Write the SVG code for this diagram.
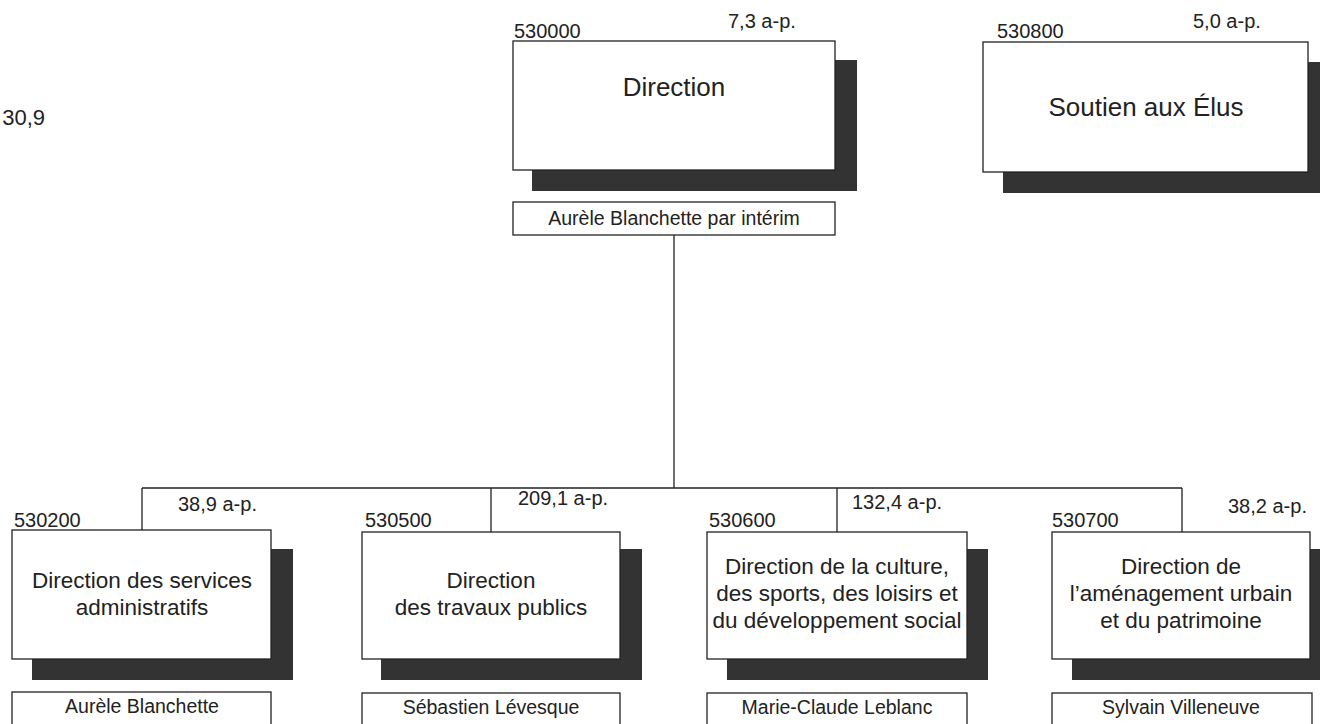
<svg xmlns="http://www.w3.org/2000/svg" width="1320" height="724" viewBox="0 0 1320 724">
<style>
text{font-family:"Liberation Sans",Arial,sans-serif;fill:#222}
.sh{fill:#333}
.bx{fill:#fff;stroke:#222;stroke-width:1.3}
.ln{fill:none;stroke:#222;stroke-width:1.3}
.lbl{font-size:20px}
.t1{font-size:26px;text-anchor:middle}
.t2{font-size:22.5px;text-anchor:middle}
.nm{font-size:19.5px;text-anchor:middle}
</style>
<rect width="1320" height="724" fill="#fff"/>
<text x="45" y="125" style="font-size:22px;text-anchor:end">30,9</text>
<g id="connectors">
<path class="ln" d="M674 235V488M142 488H1182M142 488V530M491 488V532M837 488V532M1182 488V532"/>
</g>
<g id="n530000">
<rect class="sh" x="532" y="60" width="325" height="131"/>
<rect class="bx" x="513" y="41" width="322" height="129"/>
<text class="lbl" x="514" y="38">530000</text>
<text class="lbl" x="728" y="28">7,3 a-p.</text>
<text class="t1" x="674" y="96">Direction</text>
<rect class="bx" x="513" y="202" width="322" height="33"/>
<text class="nm" x="674" y="225">Aurèle Blanchette par intérim</text>
</g>
<g id="n530800">
<rect class="sh" x="1003" y="62" width="330" height="131"/>
<rect class="bx" x="983" y="42" width="325" height="130"/>
<text class="lbl" x="997" y="38">530800</text>
<text class="lbl" x="1193" y="28">5,0 a-p.</text>
<text class="t1" x="1146" y="116">Soutien aux Élus</text>
</g>
<g id="n530200">
<rect class="sh" x="32" y="549" width="261" height="131"/>
<rect class="bx" x="12" y="530" width="259" height="129"/>
<text class="lbl" x="14" y="527">530200</text>
<text class="lbl" x="178" y="511">38,9 a-p.</text>
<text class="t2" x="142" y="588">Direction des services</text>
<text class="t2" x="142" y="615">administratifs</text>
<rect class="bx" x="12" y="692" width="259" height="40"/>
<text class="nm" x="142" y="713">Aurèle Blanchette</text>
</g>
<g id="n530500">
<rect class="sh" x="381" y="549" width="261" height="131"/>
<rect class="bx" x="362" y="532" width="258" height="127"/>
<text class="lbl" x="365" y="527">530500</text>
<text class="lbl" x="518" y="505">209,1 a-p.</text>
<text class="t2" x="491" y="588">Direction</text>
<text class="t2" x="491" y="615">des travaux publics</text>
<rect class="bx" x="362" y="693" width="258" height="40"/>
<text class="nm" x="491" y="714">Sébastien Lévesque</text>
</g>
<g id="n530600">
<rect class="sh" x="727" y="549" width="261" height="131"/>
<rect class="bx" x="707" y="532" width="260" height="127"/>
<text class="lbl" x="709" y="527">530600</text>
<text class="lbl" x="852" y="509">132,4 a-p.</text>
<text class="t2" x="837" y="574">Direction de la culture,</text>
<text class="t2" x="837" y="601">des sports, des loisirs et</text>
<text class="t2" x="837" y="628">du développement social</text>
<rect class="bx" x="707" y="693" width="260" height="40"/>
<text class="nm" x="837" y="714">Marie-Claude Leblanc</text>
</g>
<g id="n530700">
<rect class="sh" x="1072" y="549" width="260" height="131"/>
<rect class="bx" x="1052" y="532" width="258" height="127"/>
<text class="lbl" x="1052" y="527">530700</text>
<text class="lbl" x="1228" y="513">38,2 a-p.</text>
<text class="t2" x="1181" y="574">Direction de</text>
<text class="t2" x="1181" y="601">l’aménagement urbain</text>
<text class="t2" x="1181" y="628">et du patrimoine</text>
<rect class="bx" x="1052" y="693" width="260" height="40"/>
<text class="nm" x="1181" y="714">Sylvain Villeneuve</text>
</g>
</svg>
